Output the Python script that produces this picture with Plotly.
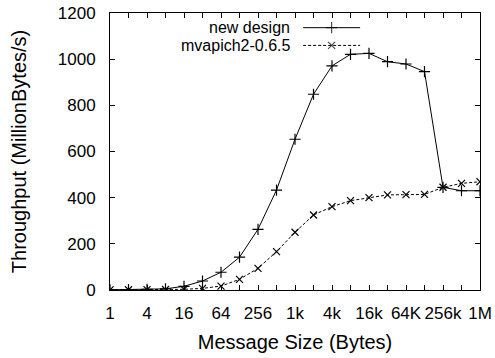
import plotly.graph_objects as go

sizes = [2**i for i in range(21)]
tick_labels = ["1", "", "4", "", "16", "", "64", "", "256", "", "1k", "", "4k", "", "16k", "", "64K", "", "256k", "", "1M"]
new_design = [0.8, 1.5, 3, 5, 16, 39, 77, 142, 263, 433, 653, 848, 971, 1021, 1025, 989, 979, 946, 445, 430, 430]
mvapich = [0.5, 1, 1.5, 2, 3, 7, 17, 46, 94, 166, 250, 325, 361, 387, 400, 412, 413, 414, 445, 462, 469]
series_names = ["new design", "mvapich2-0.6.5"]

FONT = "Liberation Sans, Arial, sans-serif"
FS = 17
fig = go.Figure()
fig.add_trace(go.Scatter(x=sizes, y=new_design, mode="lines+markers", name=series_names[0],
                         line=dict(color="black", width=1),
                         marker=dict(symbol="cross-thin", size=8, line=dict(color="black", width=1.2)),
                         showlegend=False))
fig.add_trace(go.Scatter(x=sizes, y=mvapich, mode="lines+markers", name=series_names[1],
                         line=dict(color="black", width=1, dash="3px,2px"),
                         marker=dict(symbol="x-thin", size=7, line=dict(color="black", width=1.2)),
                         showlegend=False))

# gnuplot-style legend: text right-aligned, sample on the right
leg_y = [0.947, 0.883]
styles = [(dict(color="black", width=1), "cross-thin", 8), (dict(color="black", width=1, dash="3px,2px"), "x-thin", 7)]
for name, ly, (ln, sym, sz) in zip(series_names, leg_y, styles):
    fig.add_trace(go.Scatter(x=[0.522, 0.599, 0.676], y=[ly, ly, ly], mode="lines+markers",
                             xaxis="x2", yaxis="y2", line=ln, hoverinfo="skip", showlegend=False,
                             marker=dict(symbol=sym, size=[0, sz, 0], line=dict(color="black", width=1.2))))
    fig.add_annotation(text=name, xref="paper", yref="paper", x=0.492, y=ly, xanchor="right", yanchor="middle",
                       showarrow=False, font=dict(family=FONT, size=16, color="black"))

fig.update_layout(
    width=495, height=358, margin=dict(l=110, r=15, t=13, b=68),
    paper_bgcolor="white", plot_bgcolor="white",
    font=dict(family=FONT, size=FS, color="black"),
    xaxis=dict(type="log", range=[0, 20 * 0.30103], tickvals=sizes, ticktext=tick_labels,
               tickangle=0, ticks="inside", ticklen=5, tickcolor="black", showgrid=False, zeroline=False,
               showline=True, linecolor="black", linewidth=1, mirror="allticks",
               ticklabelstandoff=8, automargin=False,
               title=dict(text="Message Size (Bytes)", standoff=12), tickfont=dict(size=FS)),
    yaxis=dict(range=[0, 1200], dtick=200, ticks="inside", ticklen=5, tickcolor="black",
               showgrid=False, zeroline=False, showline=True, linecolor="black", linewidth=1,
               mirror="allticks", ticklabelstandoff=10, ticklabeloverflow="allow", automargin=False,
               title=dict(text="Throughput (MillionBytes/s)", standoff=25),
               tickfont=dict(size=FS)),
    xaxis2=dict(overlaying="x", range=[0, 1], visible=False),
    yaxis2=dict(overlaying="y", range=[0, 1], visible=False),
)
fig.write_html("out.html", config={"displayModeBar": False},
               post_script="document.body.style.margin='0';")
